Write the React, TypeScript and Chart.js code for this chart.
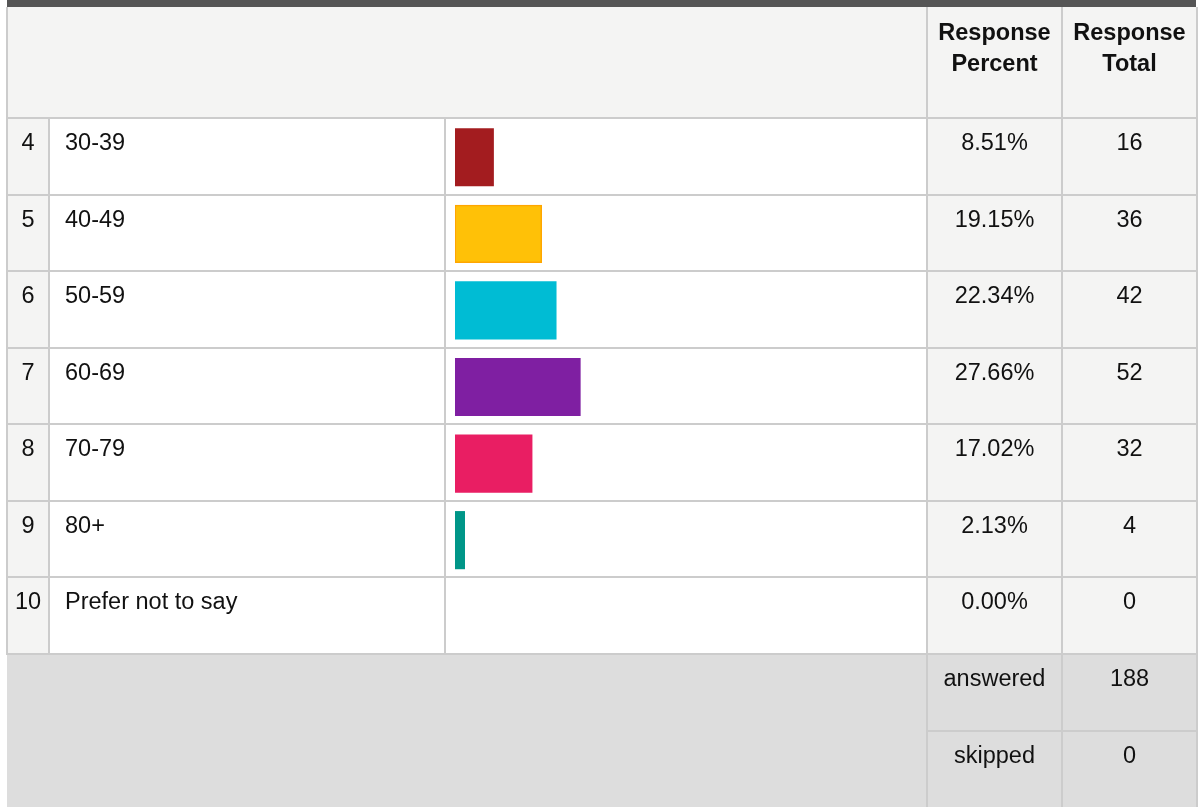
import React, { useEffect, useRef } from "react";
import { Chart, registerables } from "chart.js";

Chart.register(...registerables);

const rowNumbers = ["4", "5", "6", "7", "8", "9", "10"];
const categories = ["30-39", "40-49", "50-59", "60-69", "70-79", "80+", "Prefer not to say"];
const percents = [8.51, 19.15, 22.34, 27.66, 17.02, 2.13, 0.0];
const totals = [16, 36, 42, 52, 32, 4, 0];
const barColors = ["#A31C1F", "#FFC107", "#00BCD4", "#7F1FA2", "#E91E63", "#009688", "rgba(0,0,0,0)"];
const barBorderColors = ["#A31C1F", "#FFA600", "#00BCD4", "#7F1FA2", "#E91E63", "#009688", "rgba(0,0,0,0)"];
const barBorderWidths = [0, 1.5, 0, 0, 0, 0, 0];
const headerPercent = ["Response", "Percent"];
const headerTotal = ["Response", "Total"];
const summaryLabels = ["answered", "skipped"];
const summaryValues = [188, 0];

const FONT = '"Liberation Sans", Arial, Helvetica, sans-serif';
const LINE = "#cccccc";
const LIGHT = "#f4f4f3";
const FOOT = "#dddddd";

const X_LEFT = 7;
const X_NUM = 49;
const X_LABEL = 445;
const X_PCT = 927;
const X_TOT = 1062;
const X_RIGHT = 1197;
const Y_HEAD = 7;
const Y_ROWS = 118;
const ROW_H = 76.57;

function BarCanvas() {
  const ref = useRef<HTMLCanvasElement | null>(null);
  useEffect(() => {
    if (!ref.current) return;
    const chart = new Chart(ref.current, {
      type: "bar",
      data: {
        labels: categories,
        datasets: [
          {
            data: percents,
            backgroundColor: barColors,
            borderColor: barBorderColors,
            borderWidth: barBorderWidths,
            borderSkipped: false,
            barThickness: 57.5,
          },
        ],
      },
      options: {
        indexAxis: "y",
        animation: false,
        responsive: false,
        maintainAspectRatio: false,
        layout: { padding: 0 },
        plugins: { legend: { display: false }, tooltip: { enabled: false } },
        scales: {
          x: { min: 0, max: 100, display: false },
          y: { display: false, offset: true },
        },
      },
    });
    return () => chart.destroy();
  }, []);
  return (
    <canvas
      ref={ref}
      width={453}
      height={536}
      style={{ position: "absolute", left: 455, top: Y_ROWS + 1, width: 453, height: 536 }}
    />
  );
}

function box(left: number, top: number, width: number, height: number, bg: string, key?: string) {
  return <div key={key} style={{ position: "absolute", left, top, width, height, background: bg }} />;
}

function textCell(
  key: string,
  left: number,
  top: number,
  width: number,
  content: React.ReactNode,
  align: "left" | "center",
  bold = false,
  padLeft = 0
) {
  return (
    <div
      key={key}
      style={{
        position: "absolute",
        left,
        top,
        width,
        paddingTop: 9,
        paddingLeft: padLeft,
        boxSizing: "border-box",
        textAlign: align,
        fontFamily: FONT,
        fontSize: 23.5,
        lineHeight: "31px",
        fontWeight: bold ? 700 : 400,
        color: "#111111",
        whiteSpace: "nowrap",
      }}
    >
      {content}
    </div>
  );
}

export default function App() {
  const nRows = categories.length;
  const yEnd = Y_ROWS + ROW_H * nRows;
  const rowLines: number[] = [];
  for (let i = 0; i <= nRows; i++) rowLines.push(Y_ROWS + ROW_H * i);
  const footMid = yEnd + ROW_H;

  return (
    <div style={{ position: "absolute", left: 0, top: 0, width: 1199, height: 807, background: "#fff", overflow: "hidden" }}>
      {box(X_LEFT, 0, X_RIGHT - X_LEFT - 1, 7, "#555555", "topbar")}
      {box(X_LEFT, Y_HEAD, X_RIGHT - X_LEFT, Y_ROWS - Y_HEAD, LIGHT, "headbg")}
      {box(X_LEFT, Y_ROWS, X_NUM - X_LEFT, yEnd - Y_ROWS, LIGHT, "numbg")}
      {box(X_PCT, Y_ROWS, X_RIGHT - X_PCT, yEnd - Y_ROWS, LIGHT, "pctbg")}
      {box(X_LEFT, yEnd, X_RIGHT - X_LEFT, 807 - yEnd, FOOT, "footbg")}

      <BarCanvas />

      {rowLines.map((y, i) => box(X_LEFT - 1, y - 1, X_RIGHT - X_LEFT + 2, 2, LINE, "h" + i))}
      {box(X_PCT, footMid - 1, X_RIGHT - X_PCT, 2, LINE, "hfoot")}

      {box(X_LEFT - 1, Y_HEAD, 2, yEnd - Y_HEAD, LINE, "v0")}
      {box(X_NUM - 1, Y_ROWS, 2, yEnd - Y_ROWS, LINE, "v1")}
      {box(X_LABEL - 1, Y_ROWS, 2, yEnd - Y_ROWS, LINE, "v2")}
      {box(X_PCT - 1, Y_HEAD, 2, 807 - Y_HEAD, LINE, "v3")}
      {box(X_TOT - 1, Y_HEAD, 2, 807 - Y_HEAD, LINE, "v4")}
      {box(X_RIGHT - 1, Y_HEAD, 2, 807 - Y_HEAD, LINE, "v5")}

      {textCell("hp", X_PCT, Y_HEAD + 1, X_TOT - X_PCT, <>{headerPercent[0]}<br />{headerPercent[1]}</>, "center", true)}
      {textCell("ht", X_TOT, Y_HEAD + 1, X_RIGHT - X_TOT, <>{headerTotal[0]}<br />{headerTotal[1]}</>, "center", true)}

      {categories.map((c, i) => {
        const top = Y_ROWS + ROW_H * i;
        return (
          <React.Fragment key={"r" + i}>
            {textCell("n" + i, X_LEFT, top, X_NUM - X_LEFT, rowNumbers[i], "center")}
            {textCell("c" + i, X_NUM, top, X_LABEL - X_NUM, c, "left", false, 16)}
            {textCell("p" + i, X_PCT, top, X_TOT - X_PCT, percents[i].toFixed(2) + "%", "center")}
            {textCell("t" + i, X_TOT, top, X_RIGHT - X_TOT, String(totals[i]), "center")}
          </React.Fragment>
        );
      })}

      {summaryLabels.map((s, i) => {
        const top = yEnd + ROW_H * i;
        return (
          <React.Fragment key={"s" + i}>
            {textCell("sl" + i, X_PCT, top, X_TOT - X_PCT, s, "center")}
            {textCell("sv" + i, X_TOT, top, X_RIGHT - X_TOT, String(summaryValues[i]), "center")}
          </React.Fragment>
        );
      })}
    </div>
  );
}
